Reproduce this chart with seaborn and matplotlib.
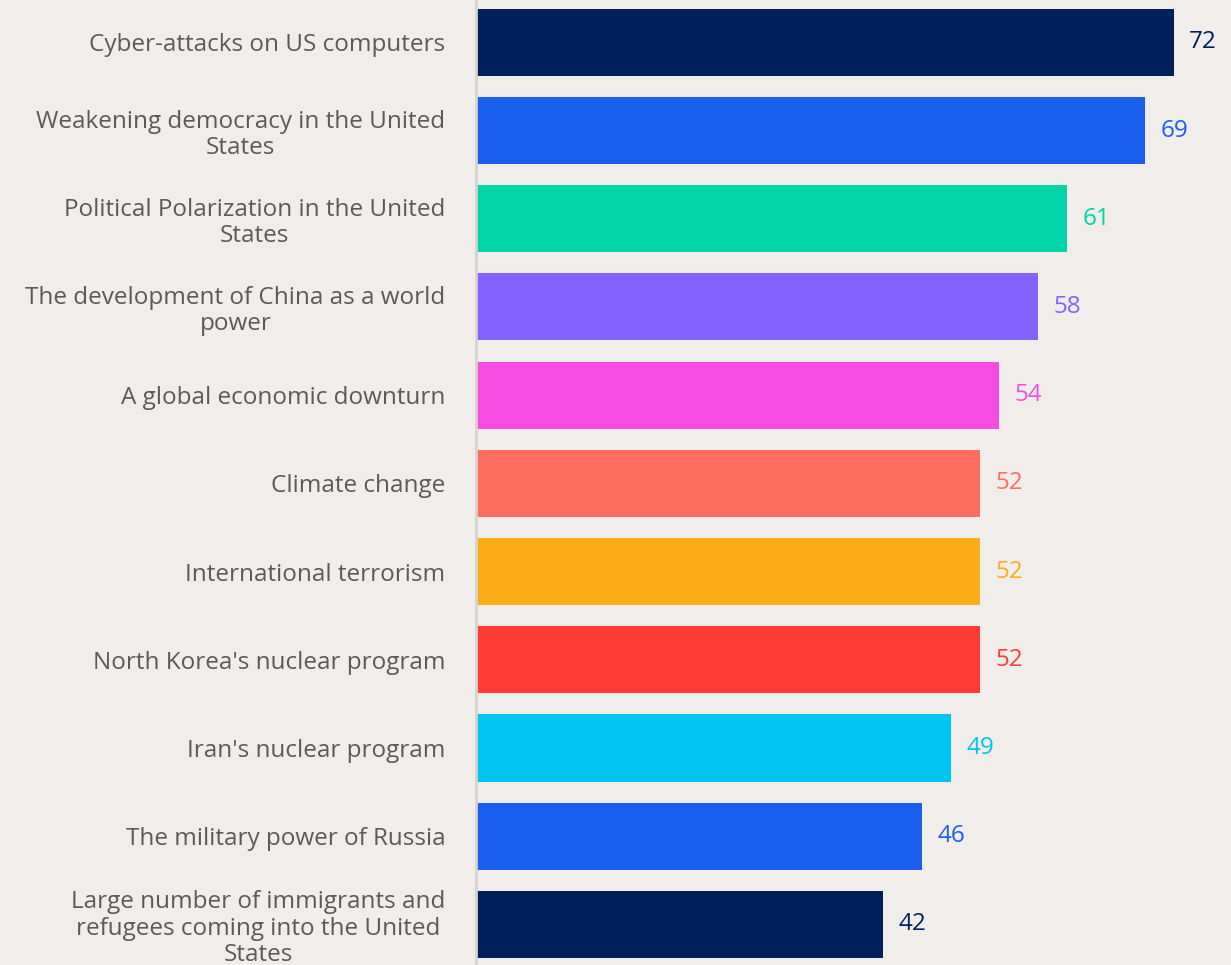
import matplotlib
matplotlib.use("Agg")
import matplotlib.pyplot as plt
import numpy as np
import pandas as pd
import seaborn as sns

#%% Data
categories = [
    'Cyber-attacks on US computers',
    'Weakening democracy in the United\nStates',
    'Political Polarization in the United\nStates',
    'The development of China as a world\npower',
    'A global economic downturn',
    'Climate change',
    'International terrorism',
    "North Korea's nuclear program",
    "Iran's nuclear program",
    'The military power of Russia',
    'Large number of immigrants and\nrefugees coming into the United\nStates',
]
values = [72, 69, 61, 58, 54, 52, 52, 52, 49, 46, 42]
colors = ['#00205b', '#1a5ef0', '#00d4a8', '#8462ff', '#f74ce1', '#ff6d60',
          '#fdac19', '#ff3b36', '#00c4f2', '#1a5ef0', '#00205b']

data = pd.DataFrame({'category': categories, 'value': values})

#%% Figure
bg = '#f0edea'
sns.set_style("white")
plt.rcParams['font.family'] = ['Open Sans', 'DejaVu Sans']

fig = plt.figure(figsize=(12.31, 9.65), dpi=100, facecolor=bg)
ax = fig.add_axes([476 / 1231, 0, 755 / 1231, 1])
ax.set_facecolor(bg)

sns.barplot(data=data, x='value', y='category', hue='category',
            palette=colors, legend=False, width=0.76, saturation=1,
            orient='h', linewidth=0, ax=ax)

# value labels
for i, (v, c) in enumerate(zip(values, colors)):
    ax.text(v + 1.6, i, str(v), color=c, fontsize=17.5, va='center', ha='left')

ax.set_xlim(0, 77.9)
ax.set_ylim(10.46, -0.48)
ax.set_xticks([])
ax.set_xlabel('')
ax.set_ylabel('')

ax.set_yticks(range(len(categories)))
ax.set_yticklabels(categories, fontsize=17.5, color='#5a5a5a',
                   multialignment='center', linespacing=1.13)
ax.tick_params(axis='y', length=0, pad=22)

for side in ['top', 'right', 'bottom']:
    ax.spines[side].set_visible(False)
ax.spines['left'].set_color('#d6d3d0')
ax.spines['left'].set_linewidth(2)

fig.savefig('out.png', dpi=100, facecolor=bg)
